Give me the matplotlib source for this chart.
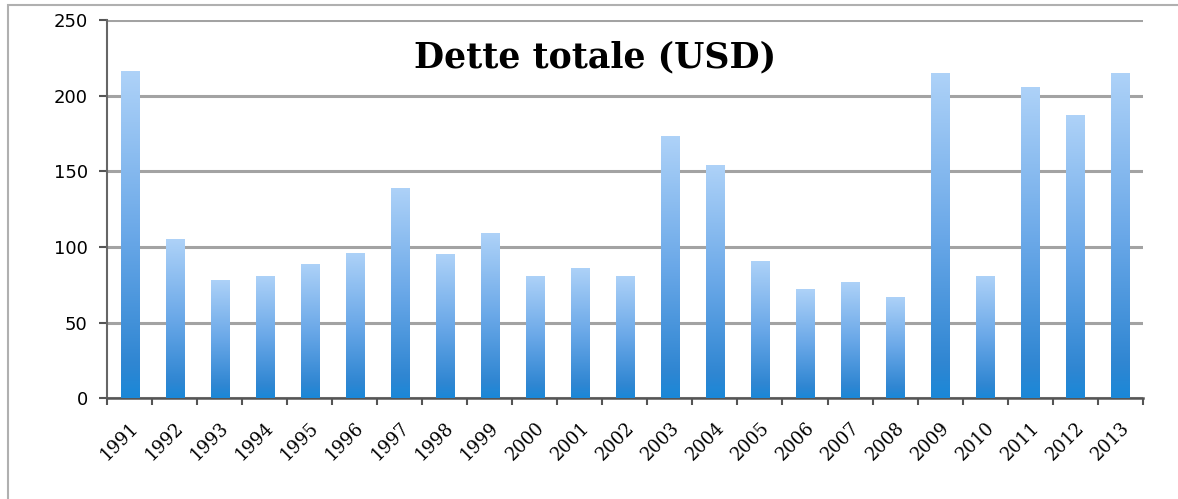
#!/usr/bin/env python3
# Dette totale (USD) bar chart, excel-like gradient bars.

import matplotlib.pyplot as plt
import matplotlib.patches as mpatches
import matplotlib.transforms as mtransforms
from matplotlib.colors import LinearSegmentedColormap
import numpy as np

years = [str(y) for y in range(1991, 2014)]
dette = [216, 105, 78, 81, 89, 96, 139, 95, 109, 81, 86, 81,
         173, 154, 91, 72, 77, 67, 215, 81, 206, 187, 215]

fig = plt.figure(figsize=(11.78, 4.99), dpi=100)
ax = fig.add_axes([0.091, 0.202, 0.879, 0.758])

x = np.arange(len(years))
bars = ax.bar(x, dette, width=0.4, color="none", edgecolor="none", zorder=3)

# vertical gradient: light blue on top -> deeper blue at the bottom
grad = np.linspace(0, 1, 256).reshape(-1, 1)
cmap = LinearSegmentedColormap.from_list(
    "xl", [(0.0, "#1a88d8"), (0.1, "#2f86d2"), (0.5, "#6aa8e8"), (1.0, "#aed2f8")]
)
for b in bars:
    x0, y0 = b.get_x(), b.get_y()
    w, h = b.get_width(), b.get_height()
    im = ax.imshow(grad, cmap=cmap, origin="lower", aspect="auto",
                   extent=(x0, x0 + w, y0, y0 + h), zorder=3)
    im.set_clip_path(b)

ax.set_xlim(-0.5, len(years) - 0.5)
ax.set_ylim(0, 250)
ax.set_yticks(range(0, 251, 50))
ax.yaxis.grid(True, color="#a3a3a3", linewidth=2.2, zorder=0)
ax.set_axisbelow(True)

ax.set_xticks(x)
ax.set_xticklabels(years, rotation=45, ha="right", rotation_mode="anchor",
                   family="DejaVu Serif", fontsize=13)
shift = mtransforms.ScaledTranslation(-8 / 100, 0, fig.dpi_scale_trans)
for lbl in ax.get_xticklabels():
    lbl.set_transform(lbl.get_transform() + shift)
ax.set_xticks(np.arange(-0.5, len(years)), minor=True)
ax.tick_params(axis="x", which="major", length=0, pad=15)
ax.tick_params(axis="x", which="minor", length=5, width=1.5, color="#555555",
               direction="out")
ax.tick_params(axis="y", length=6, width=1.5, color="#555555", labelsize=13,
               pad=8)

for s in ["top", "right"]:
    ax.spines[s].set_visible(False)
ax.spines["left"].set_color("#666666")
ax.spines["left"].set_linewidth(1.5)
ax.spines["bottom"].set_color("#555555")
ax.spines["bottom"].set_linewidth(1.8)

ax.text(0.471, 0.9, "Dette totale (USD)", transform=ax.transAxes, ha="center",
        va="center", family="DejaVu Serif", fontweight="bold", fontsize=25)

# outer chart frame
fig.patches.append(mpatches.Rectangle((0.007, -0.05), 1.2, 1.04,
                                      transform=fig.transFigure, fill=False,
                                      edgecolor="#b0b0b0", linewidth=1.5))

fig.savefig("out.png", dpi=100)
